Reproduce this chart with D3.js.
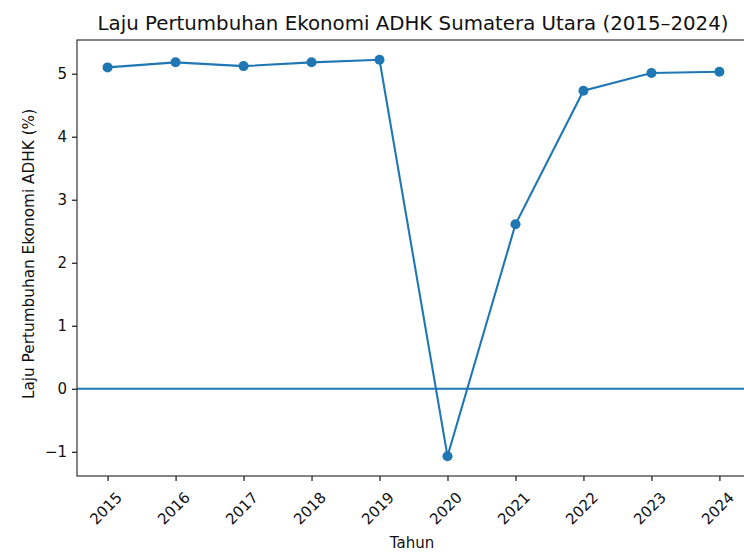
<!DOCTYPE html>
<html>
<head>
<meta charset="utf-8">
<script src="https://cdn.jsdelivr.net/npm/d3@7"></script>
<style>
  body { margin: 0; background: #fff; }
  svg { display: block; font-family: "DejaVu Sans", sans-serif; }
</style>
</head>
<body>
<div id="vis"></div>
<script>
// data
var years = [2015, 2016, 2017, 2018, 2019, 2020, 2021, 2022, 2023, 2024];
var growth = [5.10, 5.18, 5.12, 5.18, 5.22, -1.07, 2.61, 4.73, 5.01, 5.03];
var yTicks = [-1, 0, 1, 2, 3, 4, 5];

var w = 744;
var h = 553;
var padL = 77, padR = 750, padT = 40, padB = 476;
var blue = "#1f77b4";

var svg = d3.select("#vis").append("svg").attr("width", w).attr("height", h);

// matplotlib-like 5% margins
var xPad = (d3.max(years) - d3.min(years)) * 0.05;
var x = d3.scaleLinear()
  .domain([d3.min(years) - xPad, d3.max(years) + xPad])
  .range([padL, padR]);

var yPad = (d3.max(growth) - d3.min(growth)) * 0.05;
var y = d3.scaleLinear()
  .domain([d3.min(growth) - yPad, d3.max(growth) + yPad])
  .range([padB, padT]);

// x axis
var xAxis = svg.append("g")
  .attr("transform", "translate(0," + padB + ")")
  .call(d3.axisBottom(x).tickValues(years).tickFormat(d3.format("d")).tickSize(5).tickSizeOuter(0));
xAxis.select(".domain").remove();
xAxis.selectAll("line").attr("stroke", "#000").attr("stroke-width", 1.1);
xAxis.selectAll("text").remove();

svg.selectAll(".xlab")
  .data(years)
  .enter()
  .append("text")
  .attr("class", "xlab")
  .attr("transform", function (d) { return "translate(" + (x(d) - 1.5) + ",508.5) rotate(-45)"; })
  .attr("text-anchor", "middle")
  .attr("dominant-baseline", "central")
  .attr("font-size", 15)
  .attr("fill", "#111")
  .text(function (d) { return d; });

// y axis
var yAxis = svg.append("g")
  .attr("transform", "translate(" + padL + ",0)")
  .call(d3.axisLeft(y).tickValues(yTicks).tickFormat(function (d) { return d < 0 ? "\u2212" + Math.abs(d) : d; }).tickSize(5).tickPadding(5).tickSizeOuter(0));
yAxis.select(".domain").remove();
yAxis.selectAll("line").attr("stroke", "#000").attr("stroke-width", 1.1);
yAxis.selectAll("text")
  .attr("font-size", 15)
  .attr("font-family", "DejaVu Sans, sans-serif")
  .attr("fill", "#111");

// zero line
svg.append("line")
  .attr("x1", padL)
  .attr("x2", padR)
  .attr("y1", y(0))
  .attr("y2", y(0))
  .attr("stroke", blue)
  .attr("stroke-width", 2);

// series
var line = d3.line()
  .x(function (d, i) { return x(years[i]); })
  .y(function (d) { return y(d); });

svg.append("path")
  .datum(growth)
  .attr("d", line)
  .attr("fill", "none")
  .attr("stroke", blue)
  .attr("stroke-width", 2.1);

svg.selectAll(".pt")
  .data(growth)
  .enter()
  .append("circle")
  .attr("class", "pt")
  .attr("cx", function (d, i) { return x(years[i]); })
  .attr("cy", function (d) { return y(d); })
  .attr("r", 5)
  .attr("fill", blue);

// frame
svg.append("rect")
  .attr("x", padL)
  .attr("y", padT)
  .attr("width", padR - padL)
  .attr("height", padB - padT)
  .attr("fill", "none")
  .attr("stroke", "#222")
  .attr("stroke-width", 1.1);

// title and labels
svg.append("text")
  .attr("x", 413)
  .attr("y", 29.5)
  .attr("text-anchor", "middle")
  .attr("font-size", 19.8)
  .attr("fill", "#111")
  .text("Laju Pertumbuhan Ekonomi ADHK Sumatera Utara (2015\u20132024)");

svg.append("text")
  .attr("x", 412)
  .attr("y", 548)
  .attr("text-anchor", "middle")
  .attr("font-size", 15)
  .attr("fill", "#111")
  .text("Tahun");

svg.append("text")
  .attr("transform", "translate(29,254) rotate(-90)")
  .attr("text-anchor", "middle")
  .attr("dominant-baseline", "central")
  .attr("font-size", 15.3)
  .attr("fill", "#111")
  .text("Laju Pertumbuhan Ekonomi ADHK (%)");
</script>
</body>
</html>
